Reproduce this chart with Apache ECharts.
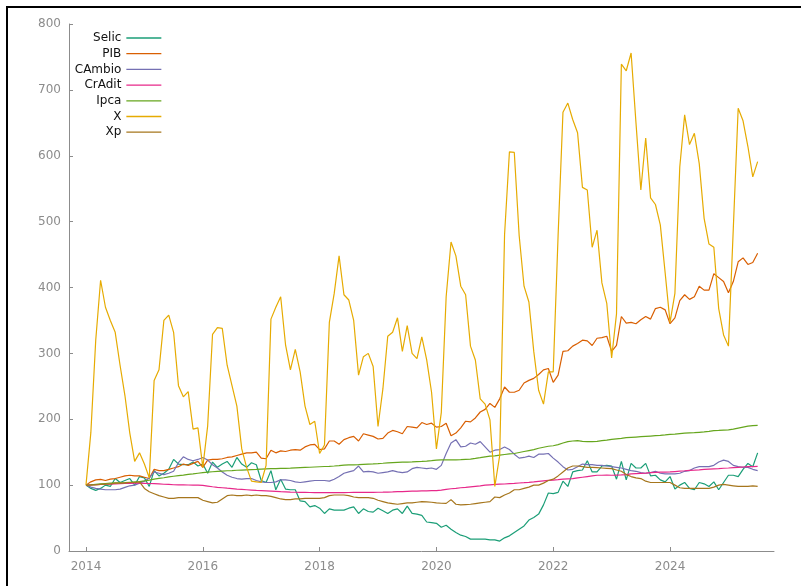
<!DOCTYPE html>
<html>
<head>
<meta charset="utf-8">
<script src="https://cdn.jsdelivr.net/npm/echarts@6/dist/echarts.min.js"></script>
<style>
html,body{margin:0;padding:0;background:#fff;overflow:hidden;}
#c{width:801px;height:586px;}
</style>
</head>
<body>
<div id="c"></div>
<script>
// Monthly series, January 2014 .. July 2025 (139 months)
const startYear = 2014;
const seriesNames = ['Selic','PIB','CAmbio','CrAdit','Ipca','X','Xp'];
const xTicks = [2014, 2016, 2018, 2020, 2022, 2024];

const selic = [
100,95,92,95,100,98,110,104,107,110,100,113,
111,98,122,114,118,124,139,132,131,131,135,129,
132,118,135,127,132,136,127,142,132,127,134,131,
107,104,122,93,109,94,93,93,76,75,67,69,
65,57,64,62,62,62,65,67,57,64,60,59,
65,61,57,62,64,57,68,57,56,54,44,43,
42,36,39,33,28,24,22,18,18,18,18,17,
17,15,20,23,28,33,38,47,51,56,70,88,
87,89,106,98,120,122,123,137,120,120,129,130,
129,109,136,108,133,126,126,133,114,115,108,105,
113,94,100,104,95,93,104,102,98,105,93,104,
115,115,113,124,133,128,149];

const pib = [
100,105,108,108.7,107,109,110,112,114,115,114,114,
112,110,124,122,122,124,126,128,132,130,133,136,
127,138,139,139,140,142,143,145,147,149,149,150,
141,140,153,149,152,151,153,154,153,158,161,162,
154,155,167,167,162,169,172,174,167,178,176,174,
170,171,179,183,181,178,189,188,187,195,192,194,
188,189,194,175,179,187,197,196,202,211,215,224,
218,231,249,241,241,244,255,259,262,268,275,277,
256,267,303,304,311,315,320,319,312,323,324,326,
303,312,356,346,347,345,351,356,352,368,370,366,
345,354,380,389,382,386,402,396,396,421,415,409,
392,409,439,445,435,438,452];

const cambio = [
100,97,95,94,93,93,93,94,96.6,99,100,103,
106,111,120,118,116,118,121,134,143,139,137,139,
142,138,131,126,120,115,112,110,109,110,110,107,
105,104,104,105,108,108,107,105,104,105,106,107,
107,107,106,109,113,118,120,122,129,120,121,120,
118,119,120,122,120,119,120,125,127,126,125,126,
124,130,148,164,169,158,159,164,162,166,158,150,
153,154,158,154,147,141,142,144,142,147,147,148,
141,135,128,123,124,128,132,131,131,130,130,129,
128,127,126,124,122,121,119,118,119,121,118,117,
117,117,118,121,122,126,128,128,128,130,135,138,
136,130,128,127,127,124,122];

const cradit = [
100,100.3,100.6,101,101.3,101.6,102,102.2,102.5,102.7,103,103,
102.8,102.5,102.2,101.8,101.3,101,100.6,100.4,100.3,100.2,100.1,100,
99.5,98.5,97.5,96.7,96,95.3,94.7,94,93.5,93,92.5,92,
91.6,91.2,90.8,90.4,90,89.7,89.4,89.2,89,88.9,88.8,88.6,
88.6,88.5,88.5,88.6,88.6,88.7,88.8,88.9,89,89,89,89.1,
89.2,89.3,89.5,89.7,90,90.2,90.5,90.8,91,91.2,91.4,91.5,
91.6,92.5,93.6,94.5,95.2,96,96.6,97.4,98.2,99,100,100.5,
101,101.4,101.7,102.2,102.6,103.2,103.7,104.3,105,105.8,106.5,107.2,
107.7,108.3,109,109.5,110,111,112,113,114,115,115,115.2,
115,115.3,115.6,116,117,117.4,117.8,118.2,119,119.3,119.6,119.8,
120,120.6,121.2,121.8,122.5,122.8,123.2,123.8,124.2,124.6,125,125.6,
126,126.5,127,127.5,128,128.2,128.5];

const ipca = [
100,100.6,101.3,102,102.5,102.9,103.3,103.6,103.8,104.4,104.9,105.4,
106.5,107.7,109,110.2,111.2,112.5,113.5,114.5,115.3,116.2,117,118,
119,119.8,120.3,120.8,121.3,121.8,122.1,122.6,122.9,123.2,123.5,123.8,
124.4,124.7,124.9,125.1,125.4,125.5,125.8,126.2,126.5,126.8,127.1,127.5,
127.9,128.3,128.6,129,129.5,130.4,130.7,130.8,131.1,131.6,132,132.3,
132.7,133.2,133.8,134.3,134.6,134.8,135,135.2,135.6,136,136.5,137.2,
138,138.3,138.5,138.3,138.3,138.6,139.2,139.6,140.6,141.7,143,144,
144.5,145.5,146.5,147.5,148,149.5,151,152.5,154,156,157.5,159,
159.8,161.5,164,166,167,167.5,166.5,166,166,166.5,167.5,168.2,
169.4,170.2,171,172,172.5,173,173.5,174,174.5,175,175.5,176.2,
177,177.5,178.2,178.8,179.2,179.6,180.2,180.8,181.5,182.6,183,183.5,
184,185,186.5,188,189.5,190.2,190.7];

const xExp = [
100,180,320,411,370,350,332,282,236,179,136,149,
132,111,259,275,350,358,332,251,234,242,185,187,
127,190,329,339,338,282,251,220,155,127,106,105,
104,130,352,370,386,313,275,306,272,220,192,197,
148,161,347,391,448,389,381,350,267,295,300,280,
189,246,326,332,354,303,342,300,292,325,290,241,
155,210,386,469,448,402,389,311,290,231,223,199,
98,145,480,606,605,479,402,378,303,244,223,272,
272,479,666,680,655,635,552,548,461,487,407,376,
293,360,739,729,756,650,548,627,536,526,495,422,
347,391,583,662,617,634,588,505,466,461,368,328,
311,490,672,653,614,568,591];

const xp = [
100,100,100.5,101,101.5,102,103,103,103.5,104,104,105,
95,90,87,84,82,80,80,81,81,81,81,81,
77,75,73,74,79,84,85,84,84,85,84,85,
84,84,83,81,79,78,78,79,79,80,80,80,
80,81,84,85,85,85,84,82,81,81,81,80,
77,75,73,72,71,72,73,73,74,75,74.5,74,
73,72.5,72.3,78,71,70,70.5,71,72,73,74,75,
82,81,85,88,93,93,95,97,100,100,103,107,
109,114,120,126,129,129,128,127,127,126.5,126,125.5,
125,123,121,116,113,111,110,106,104,104,104,104,
104,100,96,95,95,95,95,95,95,97,100,101,
100,99,98,98,98,99,98];

const valueLists = [selic, pib, cambio, cradit, ipca, xExp, xp];
const colors = ['#1b9e77','#d95f02','#7570b3','#e7298a','#66a61e','#e6ab02','#a6761d'];

const chart = echarts.init(document.getElementById('c'), null, {renderer:'canvas'});
const gray = '#8c8c8c';
const font = 'DejaVu Sans';

const series = seriesNames.map((name, k) => ({
  name: name,
  type: 'line',
  showSymbol: false,
  symbol: 'none',
  color: colors[k],
  lineStyle: {width: 1.2, color: colors[k]},
  data: valueLists[k].map((v, i) => [startYear + i / 12, v]),
  animation: false
}));

chart.setOption({
  animation: false,
  backgroundColor: '#fff',
  grid: {left: 69, right: 27, top: 24, bottom: 35},
  legend: {
    orient: 'vertical',
    align: 'right',
    right: 639,
    top: 32,
    itemWidth: 35,
    itemHeight: 14,
    itemGap: 3.7,
    padding: 0,
    itemStyle: {opacity: 0},
    lineStyle: {width: 1.3},
    textStyle: {fontFamily: font, fontSize: 12, color: '#111'},
    data: seriesNames
  },
  xAxis: {
    type: 'value',
    min: 2013.709,
    max: 2025.78,
    axisLine: {show: true, lineStyle: {color: gray, width: 1}},
    axisTick: {show: true, inside: true, length: 4, customValues: xTicks, lineStyle: {color: gray}},
    axisLabel: {customValues: xTicks, color: gray, fontFamily: font, fontSize: 12, margin: 10,
      formatter: v => String(Math.round(v))},
    splitLine: {show: false}
  },
  yAxis: {
    type: 'value',
    min: 0,
    max: 800,
    interval: 100,
    axisLine: {show: true, lineStyle: {color: gray, width: 1}},
    axisTick: {show: true, inside: true, length: 4, lineStyle: {color: gray}},
    axisLabel: {color: gray, fontFamily: font, fontSize: 12, margin: 8},
    splitLine: {show: false}
  },
  graphic: [{
    type: 'rect',
    silent: true,
    shape: {x: 7, y: 7, width: 1000, height: 1000},
    style: {fill: 'none', stroke: '#000', lineWidth: 2},
    z: 100
  }],
  series: series
});
</script>
</body>
</html>
